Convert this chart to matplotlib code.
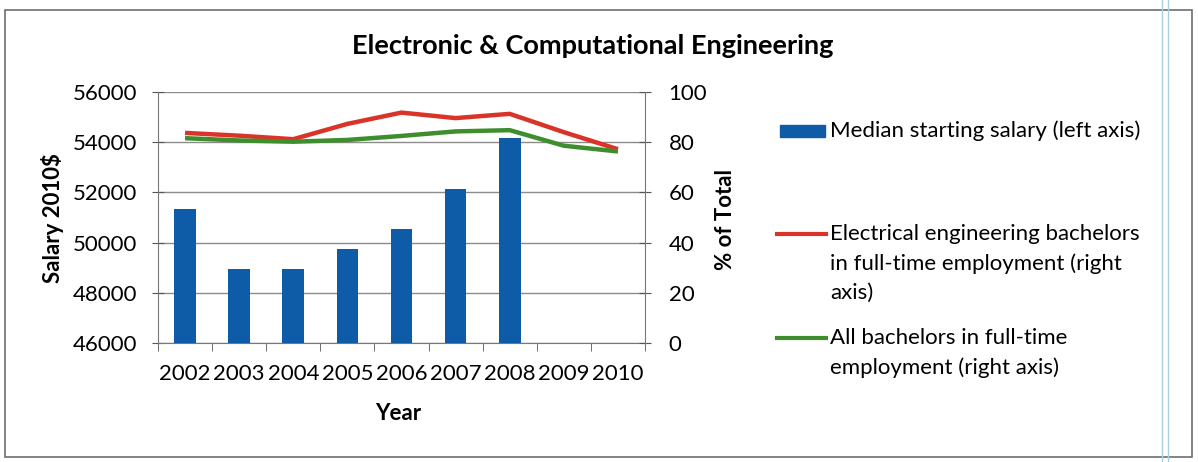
import matplotlib
matplotlib.use("Agg")
import matplotlib.pyplot as plt
import numpy as np
from matplotlib.patches import Rectangle
from matplotlib.lines import Line2D

plt.rcParams['font.family'] = ['Lato', 'DejaVu Sans']

years = ["2002", "2003", "2004", "2005", "2006", "2007", "2008", "2009", "2010"]
median_salary = [51350, 48950, 48950, 49750, 50550, 52150, 54150, None, None]
ee_fulltime_pct = [83.7, 82.6, 81.2, 87.3, 91.8, 89.6, 91.3, 84.0, 77.2]
all_fulltime_pct = [81.6, 80.7, 80.2, 80.9, 82.5, 84.3, 84.8, 78.6, 76.3]

blue = "#0E5CA8"
red = "#DA3328"
green = "#3E8E2E"
grid_col = "#8C8C8C"
FS = 16

W, H = 1198, 462


def fx(px):
    return px / W


def fy(py):
    return 1 - py / H


fig = plt.figure(figsize=(W / 100, H / 100), dpi=100)

# outer chart frame and page margin lines
fig.add_artist(Rectangle((fx(5), fy(457)), fx(1192 - 5), (457 - 10) / H,
                         transform=fig.transFigure, fill=False, edgecolor="#6E6E6E", lw=1.2))
for xp in (1161.5, 1167.5):
    fig.add_artist(Line2D([fx(xp), fx(xp)], [0, 1], transform=fig.transFigure,
                          color="#A9CFE0", lw=1.0))

ax = fig.add_axes([fx(158), fy(343), fx(645 - 158), (343 - 92) / H])
x = np.arange(len(years))

bar_x = [i for i, v in enumerate(median_salary) if v is not None]
bar_v = [v for v in median_salary if v is not None]
ax.bar(bar_x, bar_v, width=0.4, color=blue, zorder=3)
ax.set_ylim(46000, 56000)
ax.set_xlim(-0.5, len(years) - 0.5)
ax.set_yticks(np.arange(46000, 56001, 2000))
ax.yaxis.grid(True, color=grid_col, lw=1.0, zorder=0)
ax.set_axisbelow(True)

ax.set_xticks(x)
ax.set_xticklabels(years, fontsize=FS)
ax.set_xticks(np.arange(-0.5, len(years)), minor=True)
ax.tick_params(axis="x", which="major", length=0, pad=15)
ax.tick_params(axis="x", which="minor", length=6, direction="out", color="#555555")
ax.tick_params(axis="y", length=8, direction="inout", color="#555555", labelsize=FS, pad=11)

for s in ("top", "right"):
    ax.spines[s].set_visible(False)
for s in ("left", "bottom"):
    ax.spines[s].set_color("#777777")

ax2 = ax.twinx()
ax2.plot(x, ee_fulltime_pct, color=red, lw=3.2, solid_capstyle="butt", zorder=4)
ax2.plot(x, all_fulltime_pct, color=green, lw=3.2, solid_capstyle="butt", zorder=4)
ax2.set_ylim(0, 100)
ax2.set_yticks(np.arange(0, 101, 20))
ax2.tick_params(axis="y", length=8, direction="inout", color="#555555", labelsize=FS, pad=13)
for s in ("top", "left", "bottom"):
    ax2.spines[s].set_visible(False)
ax2.spines["right"].set_color("#777777")

# axis titles
fig.text(fx(53), fy(218), "Salary 2010$", rotation=90, ha="center", va="center",
         fontsize=FS, fontweight="bold")
fig.text(fx(725), fy(220), "% of Total", rotation=90, ha="center", va="center",
         fontsize=FS, fontweight="bold")
fig.text(fx(398), fy(414), "Year", ha="center", va="center",
         fontsize=FS, fontweight="bold")

fig.text(fx(593), fy(46), "Electronic & Computational Engineering",
         ha="center", va="center", fontsize=19.5, fontweight="bold")

# legend drawn as keys with text beside them
text_x = fx(830)
fig.add_artist(Rectangle((fx(780), fy(137)), fx(825 - 780), 12 / H,
                         transform=fig.transFigure, color=blue))
fig.text(text_x, fy(131), "Median starting salary (left axis)",
         ha="left", va="center", fontsize=FS)

fig.add_artist(Line2D([fx(777), fx(826)], [fy(234)] * 2,
                      transform=fig.transFigure, color=red, lw=3))
red_lines = ["Electrical engineering bachelors", "in full-time employment (right", "axis)"]
for i, line in enumerate(red_lines):
    fig.text(text_x, fy(234 + 29.5 * i), line, ha="left", va="center", fontsize=FS)

fig.add_artist(Line2D([fx(777), fx(826)], [fy(338)] * 2,
                      transform=fig.transFigure, color=green, lw=3))
green_lines = ["All bachelors in full-time", "employment (right axis)"]
for i, line in enumerate(green_lines):
    fig.text(text_x, fy(338 + 29.5 * i), line, ha="left", va="center", fontsize=FS)

fig.savefig("out.png", dpi=100, facecolor="white")
